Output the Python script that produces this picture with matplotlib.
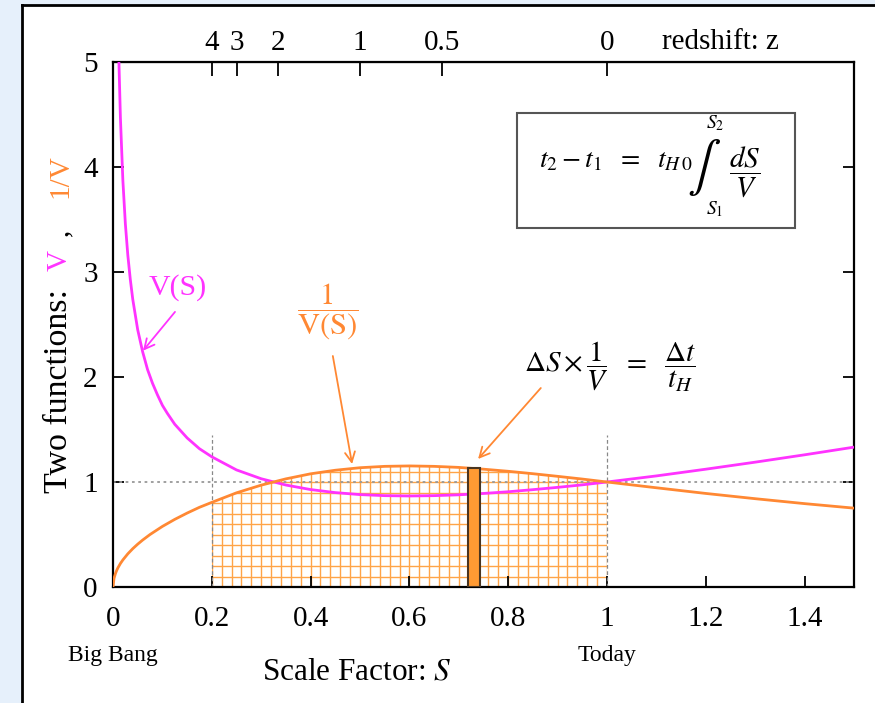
import matplotlib
matplotlib.use('Agg')
import matplotlib.pyplot as plt
from matplotlib.patches import Rectangle, Polygon
import numpy as np

plt.rcParams['font.family'] = ['Liberation Serif', 'DejaVu Serif']
plt.rcParams['mathtext.fontset'] = 'stix'

# V(S)
s_v = [0.012, 0.015, 0.02, 0.025, 0.03, 0.035, 0.04, 0.05, 0.06, 0.07, 0.08, 0.09,
       0.1, 0.11, 0.125, 0.15, 0.175, 0.2, 0.25, 0.3, 0.35, 0.4, 0.45, 0.5, 0.55,
       0.6, 0.65, 0.7, 0.75, 0.8, 0.85, 0.9, 0.95, 1.0, 1.1, 1.2, 1.3, 1.4, 1.5]
v_vals = [5.0, 4.47, 3.87, 3.46, 3.16, 2.93, 2.74, 2.45, 2.24, 2.07, 1.94, 1.83,
          1.73, 1.654, 1.55, 1.42, 1.317, 1.24, 1.115, 1.031, 0.971, 0.928, 0.899,
          0.880, 0.870, 0.867, 0.870, 0.878, 0.891, 0.907, 0.927, 0.949, 0.973, 1.0,
          1.058, 1.122, 1.189, 1.259, 1.332]

# 1/V(S)
s_inv = [0, 0.002, 0.005, 0.0075, 0.01, 0.015, 0.02, 0.03, 0.04, 0.05, 0.06, 0.075,
         0.1, 0.125, 0.15, 0.175, 0.2, 0.25, 0.3, 0.35, 0.4, 0.45, 0.5, 0.55, 0.6,
         0.65, 0.7, 0.75, 0.8, 0.85, 0.9, 0.95, 1.0, 1.1, 1.2, 1.3, 1.4, 1.5]
inv_vals = [0, 0.082, 0.129, 0.158, 0.183, 0.224, 0.258, 0.316, 0.365, 0.408, 0.447,
            0.50, 0.577, 0.644, 0.704, 0.759, 0.806, 0.897, 0.970, 1.030, 1.078, 1.112,
            1.136, 1.149, 1.153, 1.149, 1.139, 1.122, 1.102, 1.079, 1.054, 1.028, 1.0,
            0.945, 0.891, 0.841, 0.794, 0.751]

# shaded integration range and the single slice
s_start, s_end = 0.2, 1.0
grid_ds, grid_dy = 0.02, 0.1
slice_left, slice_width, slice_height = 0.719, 0.024, 1.135

redshift_ticks = [4, 3, 2, 1, 0.5, 0]
x_ticks = [0, 0.2, 0.4, 0.6, 0.8, 1, 1.2, 1.4]
x_ticklabels = ['0', '0.2', '0.4', '0.6', '0.8', '1', '1.2', '1.4']

MAGENTA = '#ff33ff'
ORANGE = '#ff8833'
GRIDORANGE = '#ffa447'

fig = plt.figure(figsize=(8.75, 7.03), dpi=100)
fig.patch.set_facecolor('#e6f0fb')
# white panel with black edges on left and top
fig.patches.append(Rectangle((22/875, 0), 1 - 22/875, 1 - 5/703, transform=fig.transFigure,
                             facecolor='white', edgecolor='none', zorder=-5))
fig.add_artist(plt.Line2D([22/875, 22/875], [0, 1 - 5/703], transform=fig.transFigure,
                          color='black', lw=2))
fig.add_artist(plt.Line2D([22/875, 1], [1 - 5/703, 1 - 5/703], transform=fig.transFigure,
                          color='black', lw=2))

ax = fig.add_axes([113/875, 1 - 587/703, (854 - 113)/875, (587 - 62)/703])
ax.set_xlim(0, 1.5)
ax.set_ylim(0, 5)

# grid under 1/V between s_start and s_end
fine_s = np.linspace(s_start, s_end, 200)
fine_top = np.interp(fine_s, s_inv, inv_vals)
verts = [(s_start, 0)] + list(zip(fine_s, fine_top)) + [(s_end, 0)]
clip = Polygon(verts, closed=True, transform=ax.transData, facecolor='none', edgecolor='none')
ax.add_patch(clip)
xs = np.arange(s_start, s_end + 1e-9, grid_ds)
vl = ax.vlines(xs, 0, 2, color=GRIDORANGE, lw=1.0, zorder=1)
vl.set_clip_path(clip)
ys = np.arange(grid_dy, 1.2, grid_dy)
hl = ax.hlines(ys, s_start, s_end, color=GRIDORANGE, lw=1.0, zorder=1)
hl.set_clip_path(clip)

# reference lines
ax.axhline(1, color='#999999', ls=(0, (1.5, 2)), lw=1.3, zorder=2)
ax.vlines([s_start, s_end], 0, 1.45, color='#888888', ls=(0, (3, 2)), lw=0.9, zorder=2)

ax.plot(s_v, v_vals, color=MAGENTA, lw=2, zorder=3, solid_capstyle='butt')
ax.plot(s_inv, inv_vals, color=ORANGE, lw=2, zorder=3)

ax.bar(slice_left, slice_height, width=slice_width, align='edge', color='#ff9a33',
       edgecolor='#4a3520', lw=1.5, zorder=4)

# ticks
ax.set_xticks(x_ticks)
ax.set_xticklabels(x_ticklabels)
ax.set_yticks(range(6))
ax.tick_params(direction='in', length=8, width=1.3, labelsize=21, right=True)
ax.tick_params(axis='x', pad=14)
ax.tick_params(axis='y', pad=11)
for sp in ax.spines.values():
    sp.set_linewidth(1.6)

top = ax.secondary_xaxis('top', functions=(lambda s: s, lambda s: s))
top.set_xticks([1 / (1 + z) for z in redshift_ticks])
top.set_xticklabels([str(z) for z in redshift_ticks])
top.tick_params(direction='in', length=10, width=1.3, labelsize=21, pad=4)
ax.text(1.229, 5.19, 'redshift: z', fontsize=21, ha='center', va='center')

# bottom labels
ax.text(0.0, -0.648, 'Big Bang', fontsize=17, ha='center', va='center')
ax.text(1.0, -0.648, 'Today', fontsize=17, ha='center', va='center')
ax.text(0.494, -0.81, 'Scale Factor: $S$', fontsize=22.5, ha='center', va='center')

# coloured y label pieces
yl_x = 67 / 875
fig.text(yl_x, 1 - 493/703, 'Two functions:', fontsize=24.5, rotation=90,
         rotation_mode='anchor', ha='left', va='baseline')
fig.text(yl_x, 1 - 271/703, 'V', fontsize=21, rotation=90, color=MAGENTA,
         rotation_mode='anchor', ha='left', va='baseline')
fig.text(yl_x, 1 - 236/703, ',', fontsize=21, rotation=90,
         rotation_mode='anchor', ha='left', va='baseline')
fig.text(yl_x, 1 - 198/703, '1/V', fontsize=21, rotation=90, color=ORANGE,
         rotation_mode='anchor', ha='left', va='baseline')

# annotations
arrow_kw = dict(arrowstyle='->', lw=1.3, shrinkA=0, shrinkB=0, mutation_scale=18)
ax.text(0.1316, 2.85, 'V(S)', fontsize=21.5, color=MAGENTA, ha='center', va='center')
ax.annotate('', xy=(0.0607, 2.25), xytext=(0.1255, 2.62),
            arrowprops=dict(color=MAGENTA, **arrow_kw))
ax.text(0.435, 2.62, r'$\dfrac{\mathrm{1}}{\mathrm{V(S)}}$', fontsize=22, color=ORANGE,
        ha='center', va='center')
ax.annotate('', xy=(0.484, 1.171), xytext=(0.445, 2.2),
            arrowprops=dict(color=ORANGE, **arrow_kw))
ax.annotate('', xy=(0.739, 1.219), xytext=(0.866, 1.895),
            arrowprops=dict(color=ORANGE, **arrow_kw))
ax.text(1.006, 2.10, r'$\Delta S\times\dfrac{1}{V}\ \ =\ \ \dfrac{\Delta t}{t_H}$',
        fontsize=21, ha='center', va='center')

# boxed integral, built from pieces so the limits sit above and below
ax.text(0.862, 4.0, r'$t_2 - t_1\ \ =\ \ t_{H\,0}$', fontsize=20, ha='left', va='baseline')
ax.text(1.197, 4.0, r'$\int$', fontsize=36, ha='center', va='center')
ax.text(1.218, 4.42, r'$S_2$', fontsize=14, ha='center', va='center')
ax.text(1.218, 3.60, r'$S_1$', fontsize=14, ha='center', va='center')
ax.text(1.279, 3.96, r'$\dfrac{dS}{V}$', fontsize=21, ha='center', va='center')
ax.add_patch(Rectangle((0.818, 3.419), 0.563, 1.095, fill=False, edgecolor='#555555',
                       lw=1.5, zorder=5))

fig.savefig('out.png', dpi=100, facecolor=fig.get_facecolor())
